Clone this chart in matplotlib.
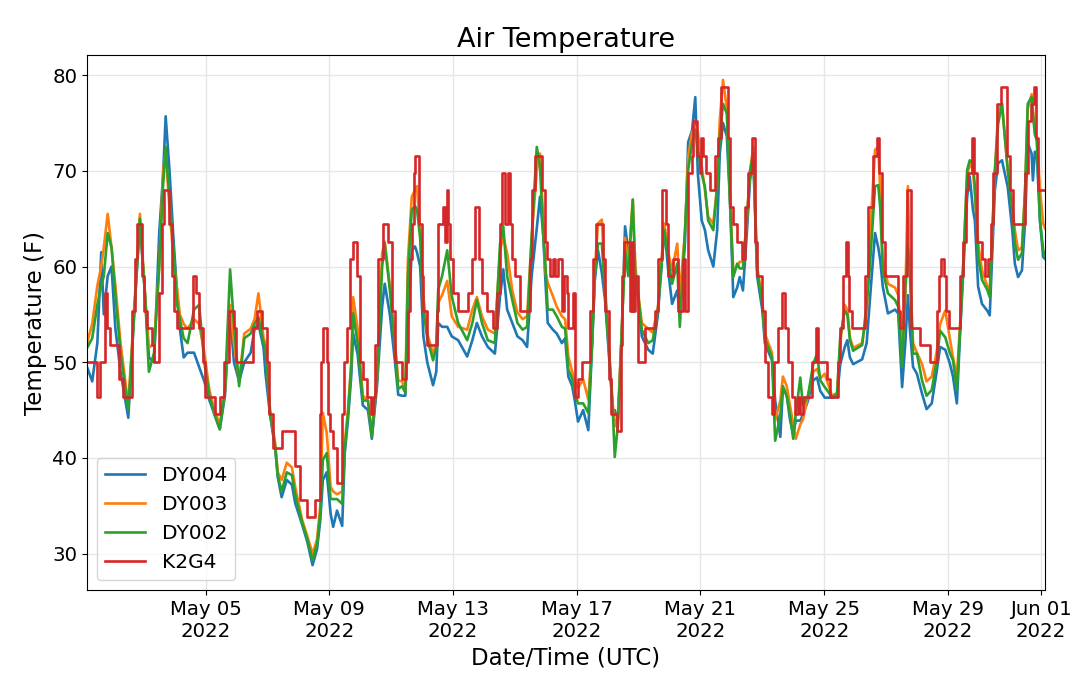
import matplotlib
matplotlib.use("Agg")
import matplotlib.pyplot as plt
import matplotlib.dates as mdates
import pandas as pd

# readings start 2022-05-01 04:00 UTC, times in hours from there
start = pd.Timestamp("2022-05-01 04:00")

hours_dy = [
    0, 4, 8, 11, 13, 16, 19, 22, 26, 32, 37, 41, 45, 48, 52, 56, 59, 61, 64, 67,
    70, 72, 75, 78, 83, 87, 91, 95, 99, 103, 107, 111, 114, 118, 122, 127, 130, 133, 137, 138.5,
    142, 146, 148, 151, 155, 159, 161.5, 167, 171, 175, 178.5, 181, 183, 186, 189, 191, 194, 198, 200, 202.5,
    205, 206.5, 210, 214, 218, 221, 225, 229, 231, 235, 239, 241.5, 244.5, 247, 249, 252, 254.5, 256, 258.5, 261,
    264, 268.5, 271, 272.5, 275.5, 279.5, 283, 288, 295, 299, 302.5, 306.5, 311, 316.5, 320.5, 323, 326, 330, 334, 338,
    341.5, 345, 349, 351.5, 354, 355.5, 357.5, 361.5, 364.5, 368.5, 371, 373.5, 376.5, 378.5, 381, 385, 389, 392, 394, 396.5,
    399.5, 402, 406, 408, 409.5, 412, 415, 417.5, 420, 423.5, 425.5, 427.5, 430.5, 435.5, 439, 443, 448, 451, 454, 458,
    460, 464, 466.5, 469.5, 472, 474, 477, 479.5, 482, 486, 489, 491, 493.5, 496.5, 499, 501.5, 504.5, 506.5, 509, 512,
    514.5, 517, 520, 524, 526, 531.5, 534, 538, 540, 543, 545.5, 548, 550, 553.5, 555.5, 559.5, 563.5, 566.5, 569, 572.5,
    578, 582, 584.5, 588, 590, 592, 594.5, 601.5, 605, 607.5, 611.5, 614, 615.5, 617.5, 621.5, 627, 629.5, 632.5, 635, 637,
    638.5, 641, 644, 648, 651.5, 655.5, 659.5, 662, 666, 669.5, 672, 675, 677.5, 680, 683, 685, 687.5, 689, 691.5, 694.5,
    698.5, 700.5, 704.5, 707, 710, 714.5, 718, 720, 722.5, 725.5, 728, 730, 733, 734, 735.5, 737, 739.5, 742, 743.4,
]

dy004 = [
    49.5, 48, 52, 61.5, 55, 59, 60, 53.5, 49, 44.2, 56, 64.5, 57, 50.5, 50, 63.5, 69.5, 75.7, 70, 63,
    57, 53.5, 50.5, 51, 51, 49.5, 48, 46, 44.5, 43, 46.5, 55, 50, 48, 50, 51, 53.5, 54, 51.5, 48.8,
    44.5, 41, 38, 35.9, 37.7, 37.2, 35.3, 33, 31.2, 28.8, 30.5, 33.5, 37.7, 38.5, 34.2, 32.8, 34.5, 32.9, 40.5, 44,
    48.5, 53, 50.8, 45.5, 45, 42, 47.5, 55.8, 58.2, 55, 50, 46.6, 46.5, 46.5, 53.7, 61.7, 62.1, 61.5, 60, 52.7,
    50, 47.6, 49, 54.1, 53.7, 53.7, 52.7, 52.3, 50.6, 52.3, 54.1, 52.7, 51.6, 50.9, 56.9, 59.7, 55.5, 54.1, 52.7, 52.3,
    51.6, 59, 64, 67.3, 63.3, 59, 54.1, 53.4, 53, 52, 52.5, 48.5, 47.5, 46, 43.8, 45, 42.9, 52, 58.5, 61.7,
    59.3, 56.5, 48.8, 45, 45, 44, 53, 64.2, 61.7, 59, 59, 56.8, 52.7, 51.3, 50.9, 55, 64, 59.6, 56.1, 57.5,
    55, 62.5, 73, 74.2, 77.7, 69.7, 64.8, 63.8, 61.7, 60, 63.8, 71.8, 75, 73.6, 66.6, 56.8, 57.8, 58.9, 57.5, 63.5,
    69, 71.5, 59, 55.5, 52, 50.2, 46, 42.2, 47.3, 46.5, 44, 42.5, 43.9, 43.9, 44.5, 46, 48.1, 48.4, 47, 46.3,
    46.3, 46.4, 49.8, 51.6, 52.3, 50.5, 49.8, 50.3, 52, 56.5, 63.5, 62, 60.7, 57.9, 55.1, 55.5, 55.1, 47.4, 52, 57,
    53.5, 49.5, 48.8, 46.7, 45.1, 45.7, 49.2, 51.6, 51.3, 49.9, 48.5, 45.7, 53, 59.5, 67.3, 69.4, 65.9, 64.8, 57.9, 56.1,
    55.4, 54.9, 68, 70.8, 71.1, 68.3, 63.8, 60.3, 58.9, 59.6, 64.8, 72.9, 71.8, 69, 72, 71.8, 64.8, 61, 60.8,
]

dy003 = [
    52, 54, 58, 60, 62, 65.5, 62, 58, 52, 45.5, 56.5, 65.5, 57, 51.5, 52, 60, 70, 72, 66, 61,
    57.5, 55, 54, 53.5, 54.5, 54, 51, 47, 45, 43.5, 47, 56, 52, 48, 53, 53.5, 54.5, 57.2, 52.5, 52,
    45, 41.5, 38.5, 37.7, 39.5, 39, 37, 33.5, 31.8, 30, 31.5, 35, 44.7, 42.6, 37, 36.5, 36.2, 36.5, 41.5, 45,
    50, 56.8, 53.5, 46.5, 46, 42.5, 48.5, 61.4, 62.6, 58, 52, 48.1, 48, 47, 60.7, 67.3, 68, 68.4, 63.5, 56.9,
    53, 50.9, 52, 56.2, 57, 58.5, 54.8, 53.7, 53.4, 55.5, 56.8, 54.8, 53.4, 53, 61.7, 63.1, 61.4, 57.5, 55.2, 54.5,
    54.8, 63, 70, 71.8, 65, 59.5, 58.3, 56.9, 55.8, 54.8, 54.5, 50.6, 49, 48, 47.3, 48.2, 46.1, 52.5, 59.5, 64.5,
    64.9, 58, 49.5, 45.5, 43.3, 44.5, 53.5, 63, 60, 67, 60, 57.5, 54.1, 53.5, 53.1, 55.8, 64.5, 61.5, 59.6, 62.4,
    57, 63.5, 71.5, 74, 74.6, 74, 70.5, 68, 65.2, 64.5, 68.5, 75.3, 79.5, 76.5, 67, 59.5, 60, 60.5, 60.5, 64.8,
    70, 72.5, 60, 56.5, 53, 51, 44, 46, 48.5, 47.5, 45.5, 43.5, 42, 43.5, 44, 46.5, 49, 49.3, 48.3, 48.8,
    46.5, 46.8, 52, 56, 55.5, 52.6, 51.5, 52, 55, 63, 72.2, 72.5, 68, 60.7, 58.2, 57.8, 57, 51, 57, 68.4,
    60, 52, 51, 49.8, 48, 48.5, 51.2, 54, 55.4, 52.5, 50.5, 48.5, 54, 60.5, 69.5, 70.8, 70, 67.5, 62.5, 59.6,
    58, 57.5, 69.8, 76.3, 77, 70, 66.5, 63.8, 61.7, 62, 68, 76.5, 78, 76.5, 74, 73.5, 68, 64.5, 64,
]

dy002 = [
    51.5, 52.5, 56, 58, 59, 63.5, 62, 57, 51, 45, 56, 65, 57, 49, 51, 60, 68.5, 72.5, 67, 62,
    56, 54.5, 52.5, 52, 55.5, 56, 50, 46.5, 44.5, 43, 47, 59.7, 54, 47.5, 52.5, 53, 54, 54.7, 52, 51.5,
    44.8, 41.2, 38.2, 36.5, 38.5, 38.2, 36.2, 33.2, 31.5, 29.3, 31, 34.2, 39.8, 40.5, 35.7, 35.7, 35.7, 35.2, 41, 44.6,
    49.5, 55.1, 52, 46, 46, 42.2, 48.1, 60, 62.4, 57.5, 51.6, 47.2, 47.5, 46.8, 59, 65.9, 66.3, 66, 63, 55.5,
    52.5, 50.2, 51.5, 57.6, 59, 61.7, 56.9, 54.1, 52.3, 54.1, 56.5, 54.1, 52.3, 52, 62.4, 64.2, 59, 56.5, 54.1, 53.4,
    53.7, 63, 72.5, 70.5, 63.3, 60.7, 55.5, 55.5, 54.8, 53.7, 53.5, 49.2, 48.3, 46.8, 45.7, 45.7, 44.7, 52, 59, 62.4,
    62.4, 57.2, 49.2, 45, 40.1, 43.5, 53.4, 61.7, 59, 67, 59, 57.2, 53.4, 52, 52.3, 55.5, 63.8, 61, 58.2, 60.3,
    53.7, 63.8, 70.1, 72.9, 74.3, 72.2, 69.7, 68.3, 64.8, 63.8, 68.3, 73.6, 77, 76, 66.6, 58.9, 60.3, 59.8, 59.8, 64.8,
    70, 71.8, 59.6, 56.1, 52.5, 50.5, 41.8, 44.5, 47.5, 46.5, 44.5, 42, 44.6, 48.4, 45.5, 46.5, 49.8, 50.9, 48.1, 47.4,
    46.4, 46.6, 52.6, 55.4, 55, 52.3, 51.2, 51.8, 56.1, 60, 68.4, 68.5, 66.2, 59.6, 57.2, 56.5, 55.8, 49.5, 57.6, 62,
    59.6, 50.9, 50.9, 48.1, 46.5, 47.1, 50.2, 53.3, 52.6, 51, 50.2, 47.1, 53.5, 60.3, 70.1, 71.1, 70.8, 68.3, 61, 58.6,
    57.6, 56.8, 70.1, 74.9, 77, 70.1, 65.9, 62.4, 60.7, 61.4, 68.3, 77, 77.7, 76, 73.8, 73.2, 64.8, 61.7, 61,
]

hours_k2g4 = [
    0, 7.8, 10.1, 14, 15.5, 17.8, 25, 28, 35, 37, 38.8, 42.7, 44.2, 46.6, 50.4, 52, 55.9, 58.2, 59.8, 63.6,
    66, 67.5, 69.8, 82.3, 84.6, 86.9, 90, 91.6, 99.3, 103.2, 106.3, 110.2, 114.1, 115.6, 128.8, 131.9, 135.8, 139.7, 141.2, 144.3,
    151.3, 161.4, 165.3, 170.7, 176.9, 180.8, 181.6, 183.1, 186.2, 187, 188.6, 190.9, 194, 197.9, 199.4, 201.8, 204.1, 206.4, 209.5, 211.8,
    214.2, 217.3, 220.4, 222, 223.5, 225.8, 229.7, 233.6, 236.7, 239, 244.4, 247.5, 249.1, 250.7, 252.2, 253.8, 254.5, 257.6, 260, 260.7,
    263.8, 271.6, 272.4, 276.3, 277.8, 279.4, 280.1, 281.7, 284, 287.9, 295.7, 298.8, 301.1, 304.2, 306.5, 310.4, 315.1, 318.2, 320.5, 322,
    324.4, 326.7, 328.2, 329.8, 332.1, 336, 343.8, 345.3, 347.6, 353, 355.4, 357, 359.3, 361.6, 363.2, 365.5, 368.6, 370.2, 372.5, 373.3,
    377.1, 378.7, 381, 384.1, 390.3, 392.7, 395, 400.4, 402, 405, 406.6, 411.3, 414.4, 415.2, 417, 421.4, 422.9, 423.7, 425.2, 427.6,
    433, 440.8, 443.1, 446.2, 449.5, 451, 454.8, 458.6, 462.5, 464, 466.4, 469.5, 470.3, 473.4, 475.7, 476.5, 478.1, 480.3, 483.4, 487.3,
    489.7, 492, 497.4, 499, 501.3, 504.4, 508.3, 510.6, 513, 516, 518.4, 519.9, 523.8, 526.1, 528.5, 531.6, 533.1, 536.2, 539.3, 541.6,
    544, 547.1, 549.4, 551.7, 553.3, 555.6, 562.6, 565.7, 567.3, 574.2, 576.6, 582.8, 584.3, 586.7, 589, 590.5, 591.3, 593.6, 603.7, 606.1,
    610, 613, 614.6, 616.9, 619.2, 629.3, 630.9, 633.2, 636.3, 639.4, 646.4, 654.2, 659.6, 661.2, 662.7, 665, 666.6, 669, 677.4, 679.8,
    682.1, 683.7, 686.8, 688.3, 690.6, 694.5, 696.8, 699.2, 701.5, 703.1, 706.2, 709.3, 713.9, 716.2, 718.6, 727.9, 730.2, 732.5, 734.9, 736.4,
    738, 743.4,
]

k2g4 = [
    50.0, 46.4, 50.0, 57.2, 53.6, 51.8, 48.2, 46.4, 55.4, 60.8, 64.4, 59.0, 55.4, 53.6, 51.8, 50.0, 57.2, 64.4, 68.0, 64.4,
    59.0, 55.4, 53.6, 59.0, 57.2, 53.6, 50.0, 46.4, 44.6, 46.4, 50.0, 55.4, 53.6, 50.0, 53.6, 55.4, 53.6, 50.0, 44.6, 41.0,
    42.8, 39.2, 35.6, 33.8, 35.6, 44.6, 50.0, 53.6, 50.0, 44.6, 42.8, 41.0, 37.4, 44.6, 50.0, 53.6, 60.8, 62.6, 59.0, 50.0,
    48.2, 46.4, 44.6, 46.4, 51.8, 60.8, 64.4, 62.6, 55.4, 50.0, 48.2, 50.0, 55.4, 60.8, 64.4, 69.8, 71.6, 64.4, 59.0, 55.4,
    51.8, 55.4, 64.4, 66.2, 62.6, 68.0, 64.4, 60.8, 57.2, 55.4, 57.2, 60.8, 66.2, 60.8, 57.2, 55.4, 53.6, 57.2, 64.4, 69.8,
    64.4, 69.8, 64.4, 60.8, 59.0, 55.4, 60.8, 68.0, 71.6, 68.0, 62.6, 60.8, 59.0, 60.8, 59.0, 60.8, 55.4, 59.0, 57.2, 53.6,
    57.2, 46.4, 48.2, 50.0, 55.4, 60.8, 64.4, 60.8, 55.4, 48.2, 44.6, 42.8, 51.8, 59.0, 62.6, 55.4, 62.6, 55.4, 59.0, 50.0,
    53.6, 55.4, 60.8, 68.0, 64.4, 59.0, 60.8, 55.4, 60.8, 55.4, 69.8, 71.6, 75.2, 71.6, 69.8, 73.4, 71.6, 69.8, 68.0, 71.6,
    73.4, 78.8, 73.4, 66.2, 64.4, 62.6, 60.8, 66.2, 69.8, 73.4, 62.6, 59.0, 55.4, 50.0, 46.4, 44.6, 50.0, 53.6, 57.2, 53.6,
    50.0, 46.4, 44.6, 46.4, 44.6, 46.4, 50.0, 53.6, 50.0, 48.2, 46.4, 50.0, 53.6, 59.0, 62.6, 59.0, 55.4, 53.6, 59.0, 66.2,
    71.6, 73.4, 69.8, 62.6, 59.0, 55.4, 53.6, 59.0, 68.0, 53.6, 51.8, 50.0, 55.4, 59.0, 60.8, 59.0, 55.4, 53.6, 59.0, 62.6,
    68.0, 69.8, 73.4, 69.8, 62.6, 60.8, 59.0, 60.8, 64.4, 69.8, 77.0, 78.8, 71.6, 68.0, 64.4, 69.8, 75.2, 77.0, 78.8, 73.4,
    68.0, 68.0,
]

t_dy = start + pd.to_timedelta(hours_dy, unit="h")
t_k2g4 = start + pd.to_timedelta(hours_k2g4, unit="h")

fig = plt.figure(figsize=(10.8, 6.81), dpi=100)
ax = fig.add_axes([0.0806, 0.1336, 0.8870, 0.7856])

ax.plot(t_dy, dy004, color="tab:blue", lw=1.9, label="DY004")
ax.plot(t_dy, dy003, color="tab:orange", lw=1.9, label="DY003")
ax.plot(t_dy, dy002, color="tab:green", lw=1.9, label="DY002")
ax.plot(t_k2g4, k2g4, color="tab:red", lw=1.9, drawstyle="steps-post", label="K2G4")

ax.set_xlim(t_dy[0], t_dy[-1])
ax.set_ylim(26.2, 82.1)
ax.set_yticks([30, 40, 50, 60, 70, 80])
ax.xaxis.set_major_locator(mdates.DayLocator(bymonthday=range(1, 32, 4)))
ax.xaxis.set_major_formatter(mdates.DateFormatter("%b %d\n%Y"))
ax.tick_params(labelsize=14.2)

ax.grid(True, color="#e6e6e6", linewidth=1)
ax.set_axisbelow(True)

ax.set_title("Air Temperature", fontsize=19.5)
ax.set_xlabel("Date/Time (UTC)", fontsize=16.5)
ax.set_ylabel("Temperature (F)", fontsize=16.5)
ax.legend(loc="lower left", fontsize=14.5)

fig.savefig("out.png", dpi=100)
